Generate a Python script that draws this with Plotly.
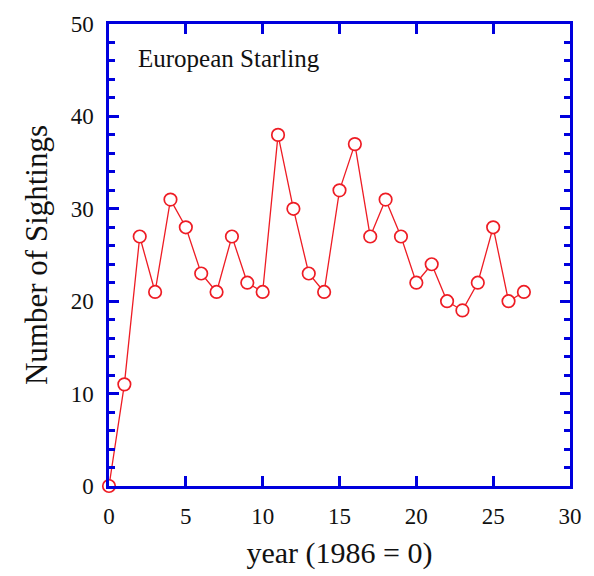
import plotly.graph_objects as go

years = list(range(0, 28))
sightings = [0, 11, 27, 21, 31, 28, 23, 21, 27, 22, 21, 38, 30, 23, 21, 32, 37, 27, 31, 27, 22, 24, 20, 19, 22, 28, 20, 21]
x_ticks = [0, 5, 10, 15, 20, 25, 30]
y_ticks = [0, 10, 20, 30, 40, 50]

fig = go.Figure()
fig.add_trace(go.Scatter(
    x=years, y=sightings, mode="lines+markers",
    line=dict(color="#ee1c24", width=1.3),
    marker=dict(symbol="circle", size=12.5, color="white", line=dict(color="#ee1c24", width=1.7)),
    cliponaxis=False, showlegend=False,
))

font = "Liberation Serif, Times New Roman, serif"
axis_common = dict(
    showgrid=False, zeroline=False, showline=True, linecolor="#0000dd", linewidth=2.5,
    mirror="ticks", ticks="inside", tickcolor="#0000dd", tickwidth=2.5, ticklen=10,
    tickfont=dict(family=font, size=23, color="#111111"), ticklabelstandoff=8,
)
fig.update_xaxes(range=[0, 30], tickvals=x_ticks, ticktext=[str(v) for v in x_ticks],
                 title=dict(text="year (1986 = 0)", font=dict(family=font, size=30, color="#111111"), standoff=14),
                 **axis_common)
fig.update_yaxes(range=[0, 50], tickvals=y_ticks, ticktext=[str(v) for v in y_ticks],
                 minor=dict(dtick=2, ticks="inside", ticklen=6, tickcolor="#0000dd", tickwidth=2.5),
                 title=dict(text="Number of Sightings", font=dict(family=font, size=31, color="#111111"), standoff=14),
                 **axis_common)
fig.add_annotation(text="European Starling", x=0.058, y=0.925, xref="paper", yref="paper",
                   xanchor="left", yanchor="middle", showarrow=False,
                   font=dict(family=font, size=25, color="#111111"))
fig.update_layout(width=594, height=576, margin=dict(l=109, r=15, t=20, b=86),
                  plot_bgcolor="white", paper_bgcolor="white")
fig.write_html("out.html")
